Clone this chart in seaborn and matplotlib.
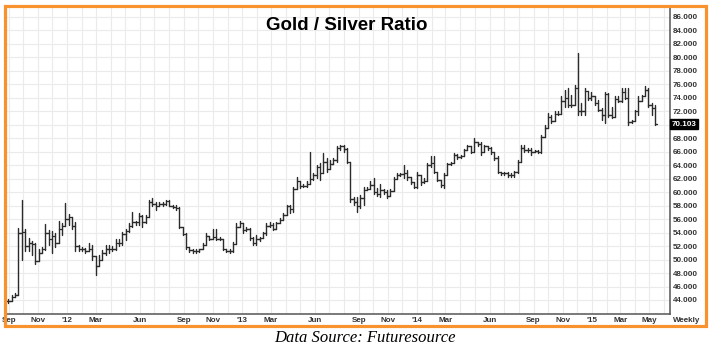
import numpy as np
import pandas as pd
import matplotlib
matplotlib.use("Agg")
import matplotlib.pyplot as plt
import matplotlib.dates as mdates
from matplotlib.patches import Rectangle
import seaborn as sns

# ---------------- data (weekly bars) ----------------
start_date = "2011-08-31"

close = [43.9, 44.5, 44.8, 54.0, 54.1, 52.0, 52.5, 52.3, 49.8, 51.0,
         51.5, 54.0, 53.0, 53.5, 52.5, 54.5, 55.0, 56.0, 56.3, 55.0,
         52.0, 51.5, 51.5, 51.3, 51.6, 50.5, 49.0, 50.0, 51.0, 51.5,
         51.5, 51.6, 52.5, 52.5, 53.8, 54.2, 55.0, 55.5, 55.5, 56.5,
         55.5, 56.3, 58.5, 58.3, 58.0, 58.3, 58.2, 58.7, 58.0, 57.8,
         57.6, 54.8, 53.8, 51.8, 51.4, 51.3, 51.3, 51.5, 52.2, 53.5,
         53.0, 53.4, 53.1, 53.0, 51.6, 51.3, 51.2, 52.3, 54.8, 55.4,
         54.4, 54.5, 53.2, 52.4, 53.0, 53.2, 53.9, 55.0, 55.2, 54.6,
         55.4, 55.8, 56.6, 57.9, 57.5, 60.5, 61.6, 60.9, 60.9, 61.2,
         62.0, 62.5, 63.8, 62.8, 64.5, 63.5, 64.2, 64.8, 66.6, 66.8,
         66.4, 64.5, 59.0, 58.5, 57.9, 59.1, 60.3, 60.5, 61.0, 60.0,
         59.8, 60.3, 60.0, 59.5, 60.2, 62.0, 62.5, 62.7, 62.8, 62.3,
         61.5, 60.8, 62.5, 61.5, 61.6, 64.0, 64.3, 63.0, 61.8, 61.0,
         62.5, 64.2, 64.3, 65.5, 65.2, 65.3, 66.2, 66.8, 66.0, 67.5,
         67.2, 66.0, 66.8, 66.5, 66.0, 65.0, 63.0, 62.8, 62.8, 62.6,
         62.5, 63.0, 64.5, 66.6, 66.2, 66.2, 66.0, 66.1, 66.0, 68.2,
         69.5, 71.2, 70.6, 71.6, 71.6, 73.5, 74.0, 73.0, 72.9, 75.5,
         72.0, 72.0, 75.0, 74.0, 74.2, 73.2, 72.2, 71.5, 74.5, 71.5,
         71.2, 73.9, 73.6, 74.8, 74.0, 70.4, 70.5, 72.0, 73.5, 74.2,
         75.2, 73.0, 72.5, 70.103]

high = [44.2, 44.7, 45.0, 54.7, 58.9, 54.6, 53.2, 52.7, 52.5, 51.5,
        51.8, 55.3, 54.4, 54.2, 54.0, 55.7, 55.4, 58.4, 56.8, 56.3,
        55.5, 52.2, 51.9, 51.7, 52.4, 52.2, 50.4, 50.7, 51.4, 52.2,
        52.2, 52.0, 53.1, 53.0, 54.1, 54.6, 55.4, 57.1, 55.7, 56.9,
        56.6, 56.6, 58.85, 59.1, 58.6, 58.6, 58.5, 58.9, 58.8, 58.1,
        58.1, 57.85, 54.7, 53.9, 51.9, 51.5, 51.6, 51.6, 52.4, 53.9,
        53.5, 54.5, 54.5, 53.4, 53.1, 51.6, 51.6, 52.6, 55.4, 55.7,
        55.4, 54.9, 54.7, 53.4, 53.65, 53.4, 54.1, 55.4, 55.6, 55.4,
        55.6, 56.1, 56.9, 58.1, 58.1, 60.8, 62.2, 61.6, 61.2, 61.6,
        66.0, 62.8, 64.0, 64.3, 65.8, 65.0, 64.8, 65.0, 66.8, 67.0,
        67.0, 66.5, 63.8, 59.3, 59.3, 59.6, 60.8, 60.8, 61.6, 62.1,
        60.6, 61.2, 60.4, 60.3, 60.4, 62.3, 62.8, 62.9, 64.0, 63.3,
        62.3, 61.5, 63.05, 62.6, 62.1, 64.3, 65.3, 65.3, 63.05, 61.8,
        62.8, 64.4, 64.5, 65.8, 65.7, 65.5, 66.4, 67.0, 66.8, 68.0,
        67.5, 67.5, 67.0, 66.8, 66.7, 66.0, 65.3, 63.05, 63.0, 63.0,
        62.9, 63.2, 64.8, 67.0, 67.0, 66.5, 66.5, 66.3, 66.3, 68.5,
        70.0, 71.7, 71.5, 72.0, 72.0, 74.2, 75.2, 75.4, 74.4, 75.9,
        80.6, 73.2, 75.4, 74.9, 74.9, 74.2, 73.7, 72.45, 74.9, 74.7,
        72.7, 74.2, 74.2, 75.4, 75.4, 75.4, 70.7, 72.2, 74.2, 74.4,
        75.7, 75.4, 73.2, 73.0]

low = [43.6, 43.9, 44.4, 44.8, 49.9, 51.2, 51.2, 50.7, 49.4, 49.8,
       51.0, 51.4, 52.2, 51.0, 51.8, 52.5, 53.7, 55.0, 55.1, 54.6,
       51.3, 51.2, 51.2, 51.0, 51.2, 50.0, 47.7, 49.2, 50.0, 50.7,
       51.0, 51.2, 51.4, 52.0, 52.2, 52.9, 54.1, 54.9, 55.2, 55.2,
       54.9, 55.4, 56.3, 57.9, 57.4, 58.0, 58.0, 58.1, 57.9, 57.6,
       57.4, 54.7, 53.7, 51.6, 51.1, 51.0, 50.9, 51.1, 51.5, 52.2,
       52.9, 53.0, 52.9, 52.9, 51.4, 51.1, 50.9, 51.1, 52.3, 54.8,
       53.9, 54.2, 52.9, 52.2, 52.2, 52.7, 53.2, 53.65, 54.9, 54.4,
       54.6, 55.4, 55.8, 56.6, 56.9, 57.1, 60.5, 60.6, 60.7, 60.8,
       61.2, 61.8, 62.1, 61.8, 62.8, 63.05, 63.5, 64.2, 64.5, 66.3,
       66.0, 64.3, 58.6, 58.1, 57.1, 57.6, 58.1, 60.3, 60.5, 59.8,
       59.4, 59.3, 59.7, 59.1, 59.5, 60.2, 62.0, 62.4, 62.1, 61.8,
       61.2, 60.6, 60.6, 61.1, 61.3, 61.6, 63.7, 62.8, 61.6, 60.8,
       60.6, 62.5, 64.0, 64.3, 64.9, 65.0, 65.3, 66.2, 65.8, 66.0,
       66.8, 65.5, 66.0, 66.3, 65.7, 64.8, 62.8, 62.55, 62.5, 62.3,
       62.3, 62.3, 62.8, 64.5, 66.0, 66.0, 65.5, 65.9, 65.8, 65.8,
       68.2, 69.5, 70.2, 70.6, 71.4, 71.6, 72.7, 72.7, 72.7, 72.9,
       71.5, 71.5, 71.5, 73.7, 73.7, 73.0, 72.0, 70.7, 70.2, 71.2,
       71.0, 71.2, 73.4, 73.4, 73.8, 70.0, 70.2, 70.5, 71.5, 73.5,
       74.2, 72.7, 71.5, 70.0]

tick_dates = ["2011-09-01", "2011-11-01", "2012-01-01", "2012-03-01", "2012-06-01",
              "2012-09-01", "2012-11-01", "2013-01-01", "2013-03-01", "2013-06-01",
              "2013-09-01", "2013-11-01", "2014-01-01", "2014-03-01", "2014-06-01",
              "2014-09-01", "2014-11-01", "2015-01-01", "2015-03-01", "2015-05-01"]
tick_labels = ["Sep", "Nov", "'12", "Mar", "Jun", "Sep", "Nov", "'13", "Mar", "Jun",
               "Sep", "Nov", "'14", "Mar", "Jun", "Sep", "Nov", "'15", "Mar", "May"]
y_ticks = list(range(44, 87, 2))

title = "Gold / Silver Ratio"
caption = "Data Source: Futuresource"

# ---------------- build long-format segments ----------------
dates = pd.date_range(start_date, periods=len(close), freq="7D")
df = pd.DataFrame({"date": dates, "close": close, "high": high, "low": low})
df["open"] = df["close"].shift(1).fillna(df["close"].iloc[0])
df["high"] = df[["high", "open", "close"]].max(axis=1)
df["low"] = df[["low", "open", "close"]].min(axis=1)

tick = pd.Timedelta(days=3)
rows = []
for i, r in df.iterrows():
    rows += [(3 * i, r.date, r.low), (3 * i, r.date, r.high)]
    rows += [(3 * i + 1, r.date - tick, r.open), (3 * i + 1, r.date, r.open)]
    rows += [(3 * i + 2, r.date, r.close), (3 * i + 2, r.date + tick, r.close)]
seg = pd.DataFrame(rows, columns=["seg", "x", "y"])

# ---------------- figure ----------------
sns.set_theme(style="white")
plt.rcParams["font.family"] = ["Liberation Sans", "DejaVu Sans"]

W, H = 713, 356
fig = plt.figure(figsize=(W / 100, H / 100), dpi=100)
fig.patch.set_facecolor("white")
ax = fig.add_axes([6 / W, (H - 314) / H, (670 - 6) / W, (314 - 7) / H])
ax.set_facecolor("white")

sns.lineplot(data=seg, x="x", y="y", units="seg", estimator=None, sort=False,
             color="#2b2b2b", linewidth=1.0, ax=ax, legend=False)

ax.set_xlim(pd.Timestamp("2011-08-26"), pd.Timestamp("2015-06-13"))
ax.set_ylim(41.92, 87.48)

last = close[-1]

# grid: every month, every 2 units
ax.xaxis.set_minor_locator(mdates.MonthLocator())
ax.set_xticks(pd.to_datetime(tick_dates))
ax.set_xticklabels(tick_labels)
ax.set_yticks(y_ticks)
# the label hidden behind the last-value box is left blank
ax.set_yticklabels(["" if abs(v - last) < 1.0 else f"{v:.3f}" for v in y_ticks])
ax.grid(True, which="both", axis="x", color="#ebebeb", linewidth=0.8)
ax.grid(True, which="major", axis="y", color="#ebebeb", linewidth=0.8)
ax.set_axisbelow(True)

ax.yaxis.tick_right()
ax.tick_params(axis="both", which="both", length=0)
ax.tick_params(axis="y", pad=2.2, labelsize=5.8, labelcolor="#333333")
ax.tick_params(axis="x", pad=2.4, labelsize=5.8, labelcolor="#333333")
for lab in ax.get_yticklabels() + ax.get_xticklabels():
    lab.set_fontweight("bold")
for lab in ax.get_yticklabels():
    lab.set_horizontalalignment("left")
ax.set_xlabel("")
ax.set_ylabel("")

for s in ["left", "top"]:
    ax.spines[s].set_visible(False)
for s in ["right", "bottom"]:
    ax.spines[s].set_visible(True)
    ax.spines[s].set_color("#555555")
    ax.spines[s].set_linewidth(1.1)

# last value box
ax.text(1.0 + 1.5 / 664, last, f"{last:.3f}", transform=ax.get_yaxis_transform(),
        ha="left", va="center", fontsize=5.8, fontweight="bold", color="white",
        bbox=dict(boxstyle="square,pad=0.18", facecolor="black", edgecolor="black"),
        zorder=20, clip_on=False)

fig.text(346.5 / W, 1 - 25 / H, title, ha="center", va="center",
         fontsize=13.5, fontweight="bold", color="black")
fig.text(687 / W, 1 - 321 / H, "Weekly", ha="center", va="center",
         fontsize=5.8, fontweight="bold", color="#333333")
fig.text(364.5 / W, 1 - 338 / H, caption, ha="center", va="center",
         fontsize=12, style="italic", family=["Liberation Serif", "DejaVu Serif"],
         color="black")

# orange frame
fig.patches.append(Rectangle((5 / W, 1 - 325.5 / H), (706 - 5) / W, (325.5 - 6) / H,
                             transform=fig.transFigure, fill=False,
                             edgecolor="#f7922f", linewidth=2.3, zorder=30))

fig.savefig("out.png", dpi=100)
